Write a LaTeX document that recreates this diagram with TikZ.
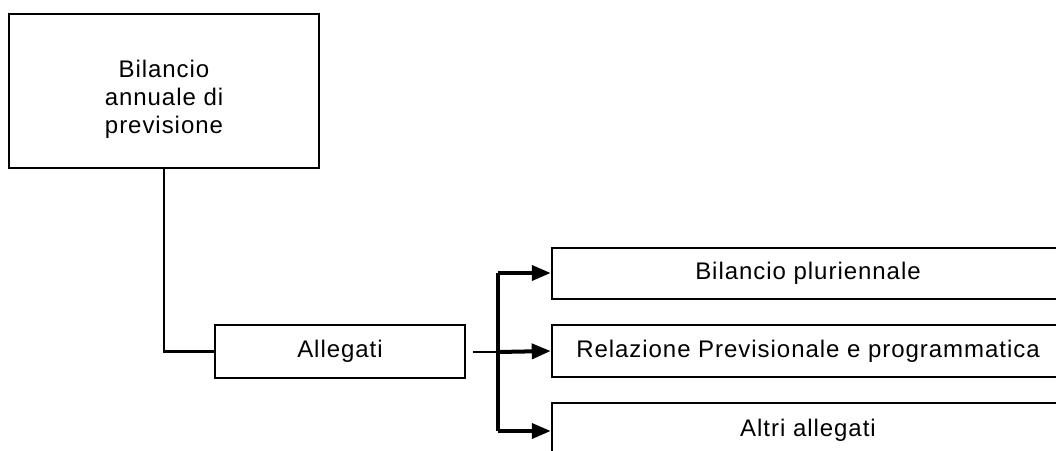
\documentclass[tikz,border=0pt]{standalone}
\usepackage{fontspec}
\setmainfont{Liberation Sans}[LetterSpace=4]
\usetikzlibrary{arrows.meta}
\begin{document}
\begin{tikzpicture}[x=1pt,y=-1pt,
  box/.style={draw=black, line width=2.5pt, fill=white, inner sep=0pt,
    font=\fontsize{24}{28}\selectfont, align=center},
  feed/.style={draw=black, line width=2.5pt},
  bus/.style={draw=black, line width=4pt, miter limit=10,
    -{Triangle[length=19pt,width=15pt]}},
  trunk/.style={draw=black, line width=4pt}]
  \clip (0,0) rectangle (1056,450);
  \fill[white] (0,0) rectangle (1056,450);

  % main document and its annex
  \node[box, minimum width=310pt, minimum height=154pt,
        text height=110pt, text depth=26pt] (main) at (164,91)
    {Bilancio\\annuale di\\previsione};
  \node[box, minimum width=250pt, minimum height=53pt] (alleg) at (340,351.5) {Allegati};

  % annexes, running past the right edge
  \node[box, minimum width=512pt, minimum height=51pt] (b1) at (808,273.5) {Bilancio pluriennale};
  \node[box, minimum width=512pt, minimum height=52pt] (b2) at (808,351) {Relazione Previsionale e programmatica};
  \node[box, minimum width=512pt, minimum height=54pt] (b3) at (808,430) {Altri allegati};

  % connectors
  \draw[feed] (main.south) |- (alleg.west);
  \coordinate (start) at (473,352);
  \coordinate (jn) at (498,352);
  \coordinate (top) at (498,273);
  \coordinate (bot) at (498,431);
  \draw[feed] (start) -- (jn);
  \draw[trunk] (top) -- (bot);
  \draw[bus] (top) -- (top -| b1.west);
  \draw[bus] (jn) -- (b2.west);
  \draw[bus] (bot) -- (bot -| b3.west);
\end{tikzpicture}
\end{document}
